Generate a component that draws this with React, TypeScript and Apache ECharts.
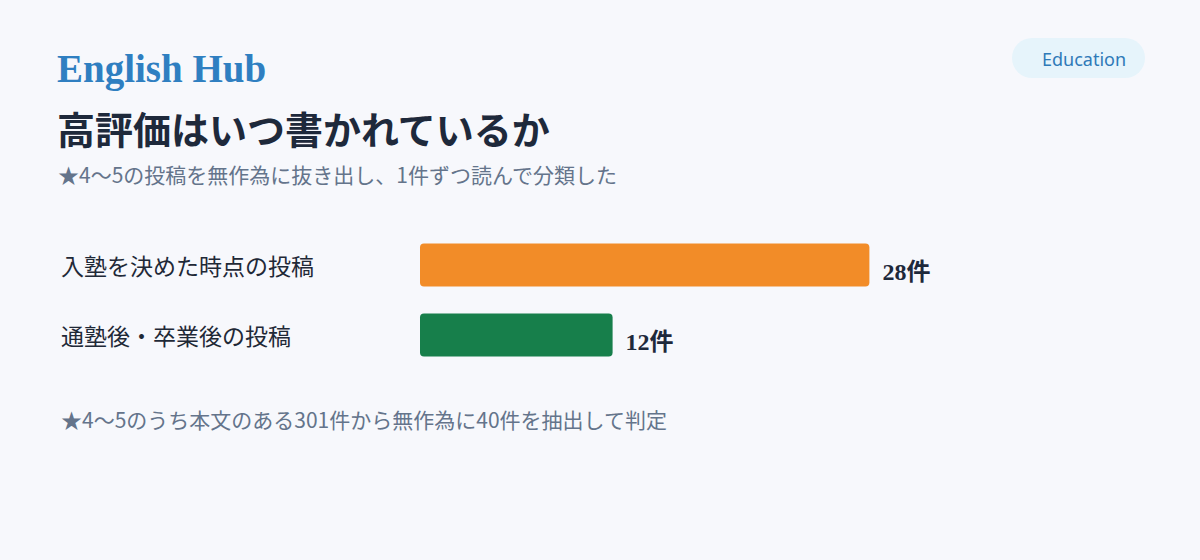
import * as echarts from "echarts";
import { useEffect, useRef } from "react";

const brand = "English Hub";
const badge = "Education";
const heading = "高評価はいつ書かれているか";
const subheading = "★4〜5の投稿を無作為に抜き出し、1件ずつ読んで分類した";
const footnote = "★4〜5のうち本文のある301件から無作為に40件を抽出して判定";

const categories = ["入塾を決めた時点の投稿", "通塾後・卒業後の投稿"];
const counts = [28, 12];
const barColors = ["#f28c28", "#177f4b"];
const unit = "件";

const sansJP = "'Noto Sans CJK JP', 'Noto Sans', sans-serif";
const serifJP = "'Liberation Serif', 'Noto Sans CJK JP', serif";

export default function App() {
  const ref = useRef<HTMLDivElement | null>(null);

  useEffect(() => {
    if (!ref.current) return;
    const chart = echarts.init(ref.current, undefined, { renderer: "svg" });
    chart.setOption({
      animation: false,
      backgroundColor: "#f7f8fc",
      grid: { left: 420, right: 138, top: 230, bottom: 190 },
      xAxis: { type: "value", min: 0, max: 40, show: false },
      yAxis: {
        type: "category",
        inverse: true,
        data: categories,
        axisLine: { show: false },
        axisTick: { show: false },
        axisLabel: { align: "left", margin: 359, color: "#1f2937", fontSize: 23, fontFamily: sansJP },
      },
      series: [
        {
          type: "bar",
          barWidth: 43,
          data: counts.map((value, i) => ({ value, itemStyle: { color: barColors[i] } })),
          itemStyle: { borderRadius: 4 },
          label: {
            show: true,
            position: "right",
            distance: 13,
            offset: [0, 7],
            formatter: (p: { value: number }) => `${p.value}${unit}`,
            color: "#1e293b",
            fontSize: 24,
            fontWeight: "bold",
            fontFamily: serifJP,
          },
        },
      ],
      graphic: [
        {
          type: "text",
          left: 57,
          top: 49,
          style: { text: brand, fill: "#2f7fc1", font: `bold 39px ${serifJP}` },
        },
        {
          type: "text",
          left: 57,
          top: 108,
          style: { text: heading, fill: "#1e293b", font: `bold 38px ${sansJP}` },
        },
        {
          type: "text",
          left: 58,
          top: 163,
          style: { text: subheading, fill: "#64748b", font: `21px ${sansJP}` },
        },
        {
          type: "text",
          left: 61,
          top: 408,
          style: { text: footnote, fill: "#64748b", font: `21px ${sansJP}` },
        },
        {
          type: "rect",
          shape: { x: 1012, y: 38, width: 133, height: 40, r: 20 },
          style: { fill: "#e6f4fb" },
        },
        {
          type: "text",
          x: 1084,
          y: 59,
          style: {
            text: badge,
            fill: "#2f7ab8",
            font: "18px 'Noto Sans', sans-serif",
            align: "center",
            verticalAlign: "middle",
          },
        },
      ],
    });
    return () => chart.dispose();
  }, []);

  return <div ref={ref} style={{ position: "fixed", left: 0, top: 0, width: 1200, height: 560 }} />;
}
